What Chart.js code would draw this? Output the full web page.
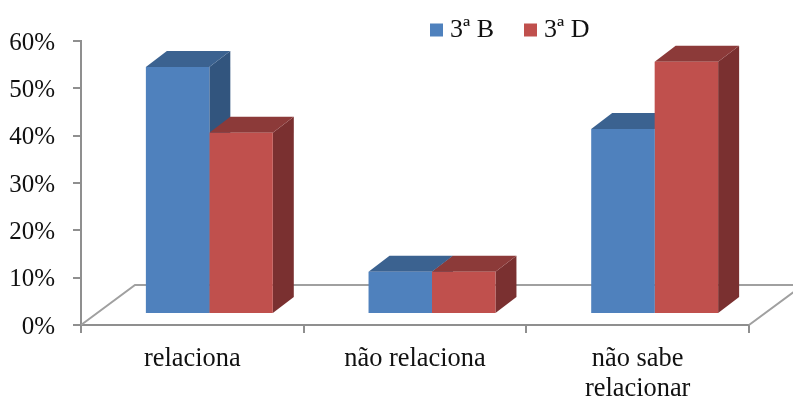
<!DOCTYPE html>
<html>
<head>
<meta charset="utf-8">
<script src="https://cdn.jsdelivr.net/npm/chart.js@4"></script>
<style>
  html, body { margin: 0; padding: 0; background: #fff; }
  #wrap { width: 793px; height: 397px; }
</style>
</head>
<body>
<div id="wrap"><canvas id="chart"></canvas></div>
<script>
const categories = ["relaciona", "não relaciona", ["não sabe", "relacionar"]];
const serieB = [52.2, 8.9, 39.1];
const serieD = [38.3, 8.9, 53.3];
const yTicks = [0, 10, 20, 30, 40, 50, 60];

const AXIS_GRAY = "#8f8f8f";
const FONT = "'Liberation Serif', 'Times New Roman', serif";

// faux 3D: front faces are the real bars, shifted onto the floor
const shift = { x: 17, y: -11 };
const barDepth = { x: 21, y: -16 };
const floorDepth = { x: 54, y: -40 };

const faces = [
    { top: "#3b6290", side: "#32557e" },
    { top: "#8c3a39", side: "#7a3030" }
];

const bar3d = {
    id: "bar3d",
    afterLayout(chart) {
        // move legend up into the free space above the plot
        const legend = chart.legend;
        const w = legend.right - legend.left;
        legend.left = 400;
        legend.right = 400 + w;
        legend.top = -19;
    },
    beforeDraw(chart) {
        // y labels sit about 2px lower than canvas "middle" gives
        chart.scales.y.getLabelItems(chart.chartArea).forEach(item => {
            if (!item.moved) {
                item.options.translation[1] += 2;
                item.moved = true;
            }
        });
    },
    beforeDatasetsDraw(chart) {
        const { ctx, chartArea: a } = chart;
        ctx.save();
        ctx.strokeStyle = "#a0a0a0";
        ctx.lineWidth = 2;
        ctx.beginPath();
        ctx.moveTo(a.left, a.bottom);
        ctx.lineTo(a.left + floorDepth.x, a.bottom + floorDepth.y);
        ctx.lineTo(a.right + floorDepth.x, a.bottom + floorDepth.y);
        ctx.lineTo(a.right, a.bottom);
        ctx.stroke();

        // top and side faces, blue first so red top covers blue side
        ctx.translate(shift.x, shift.y);
        chart.data.datasets.forEach((ds, i) => {
            chart.getDatasetMeta(i).data.forEach(bar => {
                const p = bar.getProps(["x", "y", "base", "width"]);
                const l = p.x - p.width / 2;
                const r = p.x + p.width / 2;
                ctx.fillStyle = faces[i].side;
                ctx.beginPath();
                ctx.moveTo(r, p.y);
                ctx.lineTo(r + barDepth.x, p.y + barDepth.y);
                ctx.lineTo(r + barDepth.x, p.base + barDepth.y);
                ctx.lineTo(r, p.base);
                ctx.closePath();
                ctx.fill();
                ctx.fillStyle = faces[i].top;
                ctx.beginPath();
                ctx.moveTo(l, p.y);
                ctx.lineTo(l + barDepth.x, p.y + barDepth.y);
                ctx.lineTo(r + barDepth.x, p.y + barDepth.y);
                ctx.lineTo(r, p.y);
                ctx.closePath();
                ctx.fill();
            });
        });
        ctx.restore();
    },
    beforeDatasetDraw(chart) {
        chart.ctx.save();
        chart.ctx.translate(shift.x, shift.y);
    },
    afterDatasetDraw(chart) {
        chart.ctx.restore();
    }
};

new Chart(document.getElementById("chart"), {
    type: "bar",
    data: {
        labels: categories,
        datasets: [
            { label: "3ª B", data: serieB, backgroundColor: "#4f81bd", clip: false },
            { label: "3ª D", data: serieD, backgroundColor: "#c0504d", clip: false }
        ]
    },
    options: {
        responsive: true,
        maintainAspectRatio: false,
        animation: false,
        layout: { padding: { top: 0, right: 44, left: 0, bottom: 0 } },
        datasets: { bar: { barPercentage: 1, categoryPercentage: 0.57 } },
        plugins: {
            tooltip: { enabled: false },
            legend: {
                position: "top",
                align: "start",
                maxHeight: 41,
                labels: {
                    usePointStyle: true,
                    pointStyle: "rect",
                    boxWidth: 1,
                    boxHeight: 13,
                    padding: 36,
                    color: "#111",
                    font: { family: FONT, size: 26 }
                }
            }
        },
        scales: {
            x: {
                afterFit(scale) { scale.height = 72; },
                grid: { drawOnChartArea: false, drawTicks: true, tickLength: 8, color: AXIS_GRAY, lineWidth: 2 },
                border: { color: AXIS_GRAY, width: 2 },
                ticks: { color: "#111", padding: 11, maxRotation: 0, font: { family: FONT, size: 26.4, lineHeight: 1.14 } }
            },
            y: {
                min: 0,
                max: 60,
                afterFit(scale) { scale.width = 81; },
                afterBuildTicks(scale) { scale.ticks = yTicks.map(v => ({ value: v })); },
                grid: { drawOnChartArea: false, drawTicks: true, tickLength: 8, color: AXIS_GRAY, lineWidth: 2 },
                border: { color: AXIS_GRAY, width: 2 },
                ticks: { color: "#111", padding: 18, callback: v => v + "%", font: { family: FONT, size: 25 } }
            }
        }
    },
    plugins: [bar3d]
});
</script>
</body>
</html>
